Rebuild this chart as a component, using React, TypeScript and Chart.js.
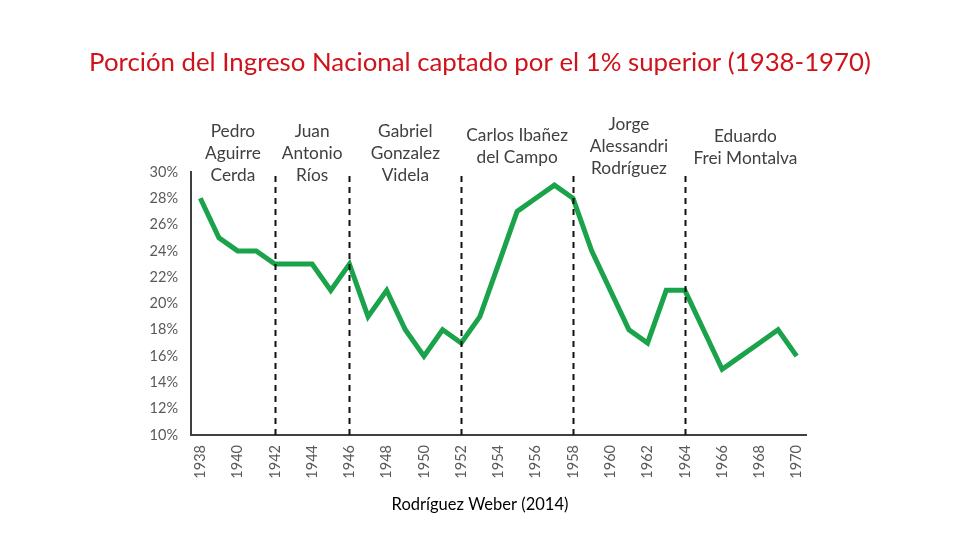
import React, { useEffect, useRef } from "react";
import { Chart, registerables } from "chart.js";

Chart.register(...registerables);

const years = [
  "1938", "1939", "1940", "1941", "1942", "1943", "1944", "1945", "1946", "1947", "1948",
  "1949", "1950", "1951", "1952", "1953", "1954", "1955", "1956", "1957", "1958", "1959",
  "1960", "1961", "1962", "1963", "1964", "1965", "1966", "1967", "1968", "1969", "1970",
];
const topShare = [
  28, 25, 24, 24, 23, 23, 23, 21, 23, 19, 21,
  18, 16, 18, 17, 19, 23, 27, 28, 29, 28, 24,
  21, 18, 17, 21, 21, 18, 15, 16, 17, 18, 16,
];
const yTicks = [10, 12, 14, 16, 18, 20, 22, 24, 26, 28, 30];
const termBoundaries = ["1942", "1946", "1952", "1958", "1964"];
const presidents = [
  { lines: ["Pedro", "Aguirre", "Cerda"], top: 131 },
  { lines: ["Juan", "Antonio", "Ríos"], top: 131 },
  { lines: ["Gabriel", "Gonzalez", "Videla"], top: 131 },
  { lines: ["Carlos Ibañez", "del Campo"], top: 135 },
  { lines: ["Jorge", "Alessandri", "Rodríguez"], top: 124 },
  { lines: ["Eduardo", "Frei Montalva"], top: 136 },
];
const titleText = "Porción del Ingreso Nacional captado por el 1% superior (1938-1970)";
const sourceText = "Rodríguez Weber (2014)";

const FONT = "Lato, 'Open Sans', sans-serif";

const annotations = {
  id: "annotations",
  afterDatasetsDraw(chart: any) {
    const { ctx, chartArea, scales } = chart;
    const x = scales.x;
    ctx.save();
    // dashed term boundaries
    ctx.strokeStyle = "#111";
    ctx.lineWidth = 2;
    ctx.setLineDash([6, 5]);
    termBoundaries.forEach((yr) => {
      const px = Math.round(x.getPixelForValue(years.indexOf(yr))) + 0.5;
      ctx.beginPath();
      ctx.moveTo(px, chartArea.bottom);
      ctx.lineTo(px, chartArea.top + 3);
      ctx.stroke();
    });
    ctx.setLineDash([]);
    // president labels
    const edges = [chartArea.left, ...termBoundaries.map((yr) => x.getPixelForValue(years.indexOf(yr))), chartArea.right];
    ctx.fillStyle = "#404040";
    ctx.font = "17.3px " + FONT;
    ctx.textAlign = "center";
    ctx.textBaseline = "middle";
    presidents.forEach((p, i) => {
      const cx = (edges[i] + edges[i + 1]) / 2;
      p.lines.forEach((ln, j) => {
        ctx.fillText(ln, cx, p.top + j * 22);
      });
    });
    // title
    ctx.fillStyle = "#D0121B";
    let fs = 24;
    ctx.font = fs + "px " + FONT;
    const w = ctx.measureText(titleText).width;
    fs = fs * 782 / w;
    ctx.font = fs.toFixed(2) + "px " + FONT;
    ctx.fillText(titleText, 480, 63);
    // source
    ctx.fillStyle = "#000";
    let ss = 15;
    ctx.font = ss + "px " + FONT;
    const sw = ctx.measureText(sourceText).width;
    ss = ss * 177 / sw;
    ctx.font = ss.toFixed(2) + "px " + FONT;
    ctx.fillText(sourceText, 480, 505);
    ctx.restore();
  },
};

export default function App() {
  const ref = useRef<HTMLCanvasElement>(null);
  useEffect(() => {
    if (!ref.current) return;
    const chart = new Chart(ref.current, {
      type: "line",
      data: {
        labels: years,
        datasets: [
          {
            data: topShare,
            borderColor: "#1AA34A",
            borderWidth: 5,
            pointRadius: 0,
            tension: 0,
            fill: false,
            borderJoinStyle: "miter",
          },
        ],
      },
      options: {
        animation: false,
        responsive: false,
        maintainAspectRatio: false,
        layout: { padding: { left: 141, right: 154, top: 172, bottom: 0 } },
        plugins: { legend: { display: false }, tooltip: { enabled: false }, title: { display: false } },
        scales: {
          x: {
            type: "category",
            offset: true,
            grid: { display: false, drawTicks: false },
            border: { display: true, color: "#404040", width: 2 },
            afterFit: (s: any) => { s.height = 105; },
            ticks: {
              autoSkip: false,
              minRotation: 90,
              maxRotation: 90,
              padding: 10,
              color: "#595959",
              font: { family: FONT, size: 14.5 },
              callback: (_v: any, i: number) => (i % 2 === 0 ? years[i] : ""),
            },
          },
          y: {
            min: 10,
            max: 30,
            grid: { display: false, drawTicks: false },
            border: { display: true, color: "#404040", width: 2 },
            afterFit: (s: any) => { s.width = 50; },
            afterBuildTicks: (s: any) => { s.ticks = yTicks.map((v) => ({ value: v })); },
            ticks: {
              padding: 13,
              color: "#595959",
              font: { family: FONT, size: 14.5 },
              callback: (v: any) => v + "%",
            },
          },
        },
      },
      plugins: [annotations],
    });
    return () => chart.destroy();
  }, []);
  return (
    <div style={{ position: "absolute", left: 0, top: 0, width: 960, height: 540, background: "#fff" }}>
      <canvas ref={ref} width={960} height={540} style={{ width: 960, height: 540 }} />
    </div>
  );
}
